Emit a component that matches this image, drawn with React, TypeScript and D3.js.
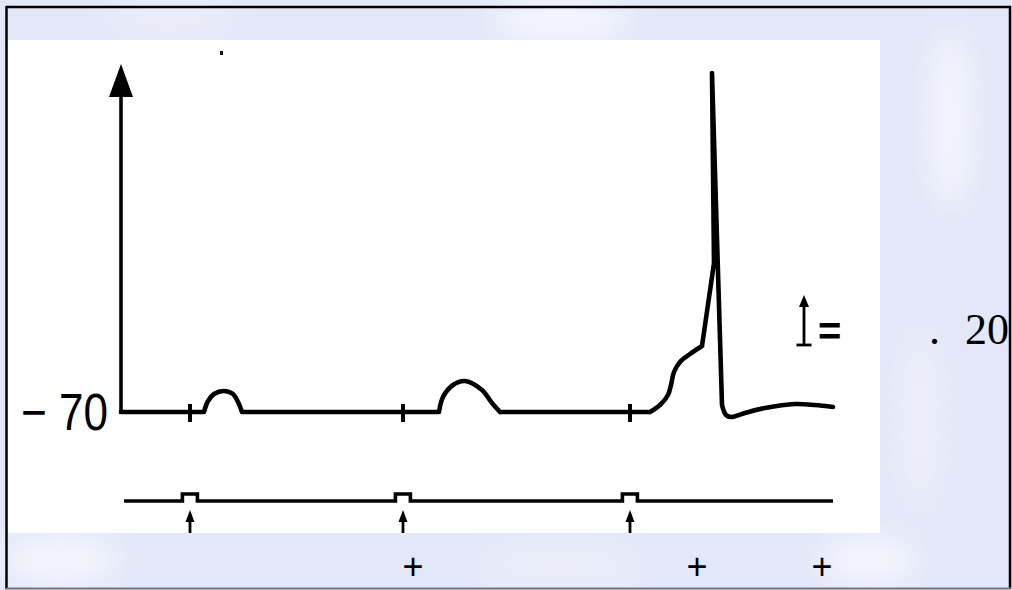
import React from "react";
import * as d3 from "d3";

// Membrane potential trace (time in ms, voltage in mV)
const traceTime = [0, 20.75, 21.75, 23.25, 25.75, 28, 29.25, 30.25, 79.5, 80.5, 83, 86, 90.25, 92.75, 94.75, 132.25, 134.75, 136.75, 137.5, 138.25, 139.75, 142.25, 145.25, 148.25, 147.75, 150.25, 151.25, 152.5, 156, 161, 168.5, 173.5, 178];
const traceVoltage = [-70, -70, -65.6, -62.8, -61.6, -62.8, -66, -70, -70, -64, -59.2, -57.6, -61.2, -66.4, -70, -70, -67.2, -63.2, -59.2, -54, -50, -46.8, -43.6, -10.4, 65.6, -67.2, -71.2, -72, -70.4, -68.4, -66.8, -67.2, -68];
// indices where the trace has a corner
const sharpIdx = [0, 1, 7, 8, 14, 15, 22, 23, 24, 25, 32];

// Stimulus times (ms)
const stimTimes = [17.25, 70.5, 127.25];
const stimStart = 0.75;
const stimEnd = 178;
const pulseWidth = 3.75;

const restLabel = "\u2212 70";
const scaleLabel = "20";
const plusTimes = [73, 144, 175.25];

const W = 1012;
const H = 590;

export default function App() {
  const x = d3.scaleLinear().domain([0, 178]).range([121, 833]);
  const y = d3.scaleLinear().domain([-70, 65.6]).range([412, 73]);
  const yStim = d3.scaleLinear().domain([0, 1]).range([501, 494]);

  // build trace path, smooth between corner points
  const pts: [number, number][] = traceTime.map((t, i) => [x(t), y(traceVoltage[i])]);
  const smooth = d3.line().curve(d3.curveCatmullRom.alpha(0.5));
  let tracePath = "";
  for (let k = 0; k < sharpIdx.length - 1; k++) {
    const seg = pts.slice(sharpIdx[k], sharpIdx[k + 1] + 1);
    tracePath += smooth(seg) || "";
  }

  // stimulus line
  const stimPts: [number, number][] = [[x(stimStart), yStim(0)]];
  stimTimes.forEach((t) => {
    const a = t - 1.9;
    const b = a + pulseWidth;
    stimPts.push([x(a), yStim(0)], [x(a), yStim(1)], [x(b), yStim(1)], [x(b), yStim(0)]);
  });
  stimPts.push([x(stimEnd), yStim(0)]);
  const stimPath = d3.line()(stimPts) || "";

  const axisX = x(0);
  const baseY = y(-70);
  const axisTop = 64;

  // scale bar: 20 mV
  const sbX = 804;
  const sbBottom = 345;
  const sbTop = sbBottom - (y(-70) - y(-50));

  return (
    <svg width={W} height={H} style={{ position: "fixed", left: 0, top: 0 }}>
      <defs>
        <filter id="blur" x="-50%" y="-50%" width="200%" height="200%">
          <feGaussianBlur stdDeviation="14" />
        </filter>
      </defs>
      {/* watermark background */}
      <rect x={0} y={0} width={W} height={H} fill="#e3e8f9" />
      <g filter="url(#blur)" opacity={0.55}>
        <ellipse cx={560} cy={20} rx={70} ry={25} fill="#ffffff" />
        <ellipse cx={170} cy={18} rx={60} ry={20} fill="#f4f2fb" />
        <ellipse cx={950} cy={120} rx={22} ry={90} fill="#ffffff" />
        <ellipse cx={920} cy={420} rx={18} ry={90} fill="#f8f6fb" />
        <ellipse cx={60} cy={560} rx={60} ry={25} fill="#ffffff" />
        <ellipse cx={560} cy={565} rx={80} ry={22} fill="#f3f3fb" />
        <ellipse cx={870} cy={560} rx={50} ry={25} fill="#ffffff" />
      </g>

      {/* white panel */}
      <rect x={8} y={40} width={872} height={493} fill="#ffffff" />

      {/* stray speck */}
      <rect x={220} y={51} width={3} height={4} fill="#111" />

      {/* y axis with arrow */}
      <line x1={axisX} y1={baseY + 2} x2={axisX} y2={96} stroke="#000" strokeWidth={3.6} />
      <path d={`M ${axisX} ${axisTop} L ${axisX + 12} ${97} L ${axisX - 12} ${97} Z`} fill="#000" />

      {/* membrane trace */}
      <path d={tracePath} fill="none" stroke="#000" strokeWidth={4.6} strokeLinejoin="round" strokeLinecap="round" />

      {/* stimulus ticks on trace */}
      {stimTimes.map((t, i) => (
        <line key={"tk" + i} x1={x(t)} x2={x(t)} y1={baseY - 8} y2={baseY + 10} stroke="#000" strokeWidth={4} />
      ))}

      {/* stimulus trace */}
      <path d={stimPath} fill="none" stroke="#000" strokeWidth={3.6} strokeLinejoin="miter" />

      {/* stimulus arrows */}
      {stimTimes.map((t, i) => (
        <g key={"ar" + i}>
          <line x1={x(t)} x2={x(t)} y1={518} y2={533} stroke="#000" strokeWidth={2.8} />
          <path d={`M ${x(t)} 510 L ${x(t) + 4.5} 522 L ${x(t) - 4.5} 522 Z`} fill="#000" />
        </g>
      ))}

      {/* rest potential label */}
      <text x={21} y={430} fontFamily="Liberation Sans, Arial, sans-serif" fontSize={52} textLength={87} lengthAdjust="spacingAndGlyphs" fill="#000">
        {restLabel}
      </text>

      {/* scale bar */}
      <line x1={sbX} x2={sbX} y1={sbBottom} y2={sbTop + 8} stroke="#000" strokeWidth={2.8} />
      <path d={`M ${sbX} ${sbTop} L ${sbX + 5} ${sbTop + 12} L ${sbX - 5} ${sbTop + 12} Z`} fill="#000" />
      <line x1={sbX - 7.5} x2={sbX + 7.5} y1={sbBottom} y2={sbBottom} stroke="#000" strokeWidth={2.8} />
      <text x={818} y={345} fontFamily="Liberation Sans, Arial, sans-serif" fontWeight="bold" fontSize={40} fill="#000">=</text>

      <text x={929} y={344} fontFamily="Liberation Serif, Times New Roman, serif" fontSize={44} fill="#000">.</text>
      <text x={965} y={344} fontFamily="Liberation Serif, Times New Roman, serif" fontSize={44} fill="#000">{scaleLabel}</text>

      {/* plus marks */}
      {plusTimes.map((t, i) => (
        <text key={"p" + i} x={x(t)} y={579} textAnchor="middle" fontFamily="Liberation Sans, Arial, sans-serif" fontSize={36} fill="#000">+</text>
      ))}

      {/* frame */}
      <line x1={6} y1={7} x2={1011} y2={7} stroke="#000" strokeWidth={2.5} />
      <line x1={6.5} y1={6} x2={6.5} y2={589} stroke="#000" strokeWidth={2.5} />
      <line x1={1010} y1={6} x2={1010} y2={589} stroke="#000" strokeWidth={2.5} />
      <line x1={6} y1={588.5} x2={1011} y2={588.5} stroke="#777" strokeWidth={2} />
    </svg>
  );
}
